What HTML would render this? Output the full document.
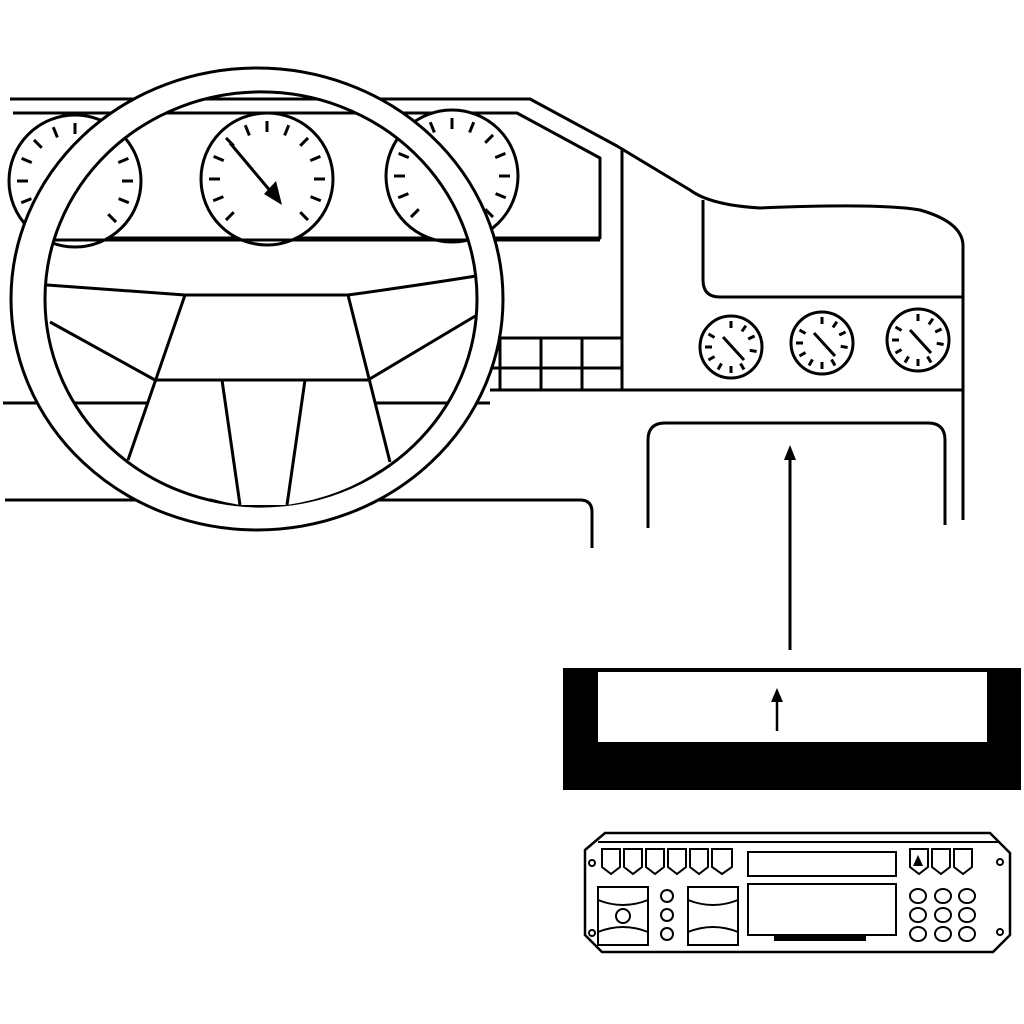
<!DOCTYPE html>
<html><head><style>html,body{margin:0;padding:0;background:#fff}svg{display:block}</style></head>
<body>
<svg width="1024" height="1024" viewBox="0 0 1024 1024" xmlns="http://www.w3.org/2000/svg">
<defs>
<g id="tk"><line x1="0" y1="-58" x2="0" y2="-47" stroke="#000" stroke-width="3"/></g>
<g id="ticks">
<use href="#tk" transform="rotate(-135)"/><use href="#tk" transform="rotate(-112)"/><use href="#tk" transform="rotate(-90)"/><use href="#tk" transform="rotate(-67)"/><use href="#tk" transform="rotate(-45)"/><use href="#tk" transform="rotate(-22)"/><use href="#tk" transform="rotate(0)"/><use href="#tk" transform="rotate(22)"/><use href="#tk" transform="rotate(45)"/><use href="#tk" transform="rotate(67)"/><use href="#tk" transform="rotate(90)"/><use href="#tk" transform="rotate(112)"/><use href="#tk" transform="rotate(135)"/>
</g>
<g id="stk"><line x1="0" y1="-26" x2="0" y2="-19" stroke="#000" stroke-width="3"/></g>
<g id="sg">
<circle r="31" fill="#fff" stroke="#000" stroke-width="3"/>
<use href="#stk" transform="rotate(-120)"/><use href="#stk" transform="rotate(-90)"/><use href="#stk" transform="rotate(-60)"/><use href="#stk" transform="rotate(0)"/><use href="#stk" transform="rotate(35)"/><use href="#stk" transform="rotate(65)"/><use href="#stk" transform="rotate(100)"/><use href="#stk" transform="rotate(150)"/><use href="#stk" transform="rotate(180)"/><use href="#stk" transform="rotate(-150)"/>
<line x1="-8" y1="-10" x2="13" y2="13" stroke="#000" stroke-width="3"/>
</g>
</defs>
<g fill="none" stroke="#000" stroke-width="3" stroke-linejoin="round">
<!-- dashboard lines -->
<path d="M10 99 H530 L617 146 L690 190 Q710 205 760 208 Q880 203 920 210 Q962 222 963 245 V520"/>
<path d="M13 113 H517 L600 158 V238 H55"/>
<line x1="622" y1="148" x2="622" y2="390"/>
<path d="M703 200 V280 Q703 297 720 297 H963"/>
<line x1="490" y1="390" x2="963" y2="390"/>
<path d="M490 338 H622 M490 368 H622 M500 338 V390 M541 338 V390 M582 338 V390"/>
<line x1="3" y1="403" x2="490" y2="403"/>
<path d="M5 500 H580 Q592 500 592 512 V548"/>
<!-- gauges -->
<circle cx="75" cy="181" r="66" fill="#fff"/>
<use href="#ticks" transform="translate(75,181)"/>
<circle cx="267" cy="179" r="66" fill="#fff"/>
<use href="#ticks" transform="translate(267,179)"/>
<line x1="230" y1="143" x2="272" y2="193"/>
<circle cx="452" cy="176" r="66" fill="#fff"/>
<use href="#ticks" transform="translate(452,176)"/>
<line x1="40" y1="240" x2="600" y2="240"/>
<!-- wheel rim -->
<path d="M11 299 A246 231 0 1 0 503 299 A246 231 0 1 0 11 299 Z M45 299 A216 207 0 1 1 477 299 A216 207 0 1 1 45 299 Z" fill="#fff" fill-rule="evenodd"/>
<!-- hub -->
<path d="M185 295 L128 460 Q180 495 240 505 L287 505 Q350 495 390 462 L348 295 Z" fill="#fff" stroke="none"/>
<path d="M47 285 Q120 290 185 295 H348 Q420 285 476 276"/>
<path d="M185 295 L128 460 M348 295 L390 462 M155 380 H368 M50 322 L155 380 M477 315 L368 380 M222 380 L240 505 M305 380 L287 505"/>
<!-- slot -->
<path d="M648 528 V440 Q648 423 665 423 H928 Q945 423 945 440 V525"/>
<line x1="790" y1="650" x2="790" y2="455"/>
<!-- small gauges -->
<use href="#sg" transform="translate(731,347)"/>
<use href="#sg" transform="translate(822,343)"/>
<use href="#sg" transform="translate(918,340)"/>
</g>
<polygon points="282,205 264,194 276,181" fill="#000"/>
<polygon points="790,445 784,460 796,460" fill="#000"/>
<!-- black frame -->
<rect x="563" y="668" width="458" height="122" fill="#000"/>
<rect x="598" y="672" width="389" height="70" fill="#fff"/>
<line x1="777" y1="731" x2="777" y2="698" stroke="#000" stroke-width="2.5"/>
<polygon points="777,688 771,702 783,702" fill="#000"/>
<!-- radio -->
<g fill="none" stroke="#000" stroke-width="2">
<path d="M605 833 H990 L1010 853 V935 L993 952 H602 L585 935 V850 Z" stroke-width="2.5"/>
<line x1="598" y1="842" x2="1000" y2="842"/>
<circle cx="592" cy="863" r="3"/><circle cx="1000" cy="862" r="3"/><circle cx="592" cy="933" r="3"/><circle cx="1000" cy="932" r="3"/>
<path d="M602 849 h18 v18 l-9 7 l-9 -7 Z M624 849 h18 v18 l-9 7 l-9 -7 Z M646 849 h18 v18 l-9 7 l-9 -7 Z M668 849 h18 v18 l-9 7 l-9 -7 Z M690 849 h18 v18 l-9 7 l-9 -7 Z M712 849 h20 v18 l-10 7 l-10 -7 Z"/>
<path d="M910 849 h18 v18 l-9 7 l-9 -7 Z M932 849 h18 v18 l-9 7 l-9 -7 Z M954 849 h18 v18 l-9 7 l-9 -7 Z"/>
<rect x="748" y="852" width="148" height="24"/>
<rect x="748" y="884" width="148" height="51"/>
<rect x="775" y="935" width="90" height="5" fill="#000"/>
<rect x="598" y="887" width="50" height="58"/>
<path d="M598 900 Q623 910 648 900 M598 932 Q623 922 648 932"/>
<circle cx="623" cy="916" r="7"/>
<rect x="688" y="887" width="50" height="58"/>
<path d="M688 900 Q713 910 738 900 M688 932 Q713 922 738 932"/>
<circle cx="667" cy="896" r="6"/><circle cx="667" cy="915" r="6"/><circle cx="667" cy="934" r="6"/>
<ellipse cx="918" cy="896" rx="8" ry="7"/><ellipse cx="943" cy="896" rx="8" ry="7"/><ellipse cx="967" cy="896" rx="8" ry="7"/>
<ellipse cx="918" cy="915" rx="8" ry="7"/><ellipse cx="943" cy="915" rx="8" ry="7"/><ellipse cx="967" cy="915" rx="8" ry="7"/>
<ellipse cx="918" cy="934" rx="8" ry="7"/><ellipse cx="943" cy="934" rx="8" ry="7"/><ellipse cx="967" cy="934" rx="8" ry="7"/>
</g>
<polygon points="918,855 913,866 923,866" fill="#000"/>
</svg>
</body></html>
